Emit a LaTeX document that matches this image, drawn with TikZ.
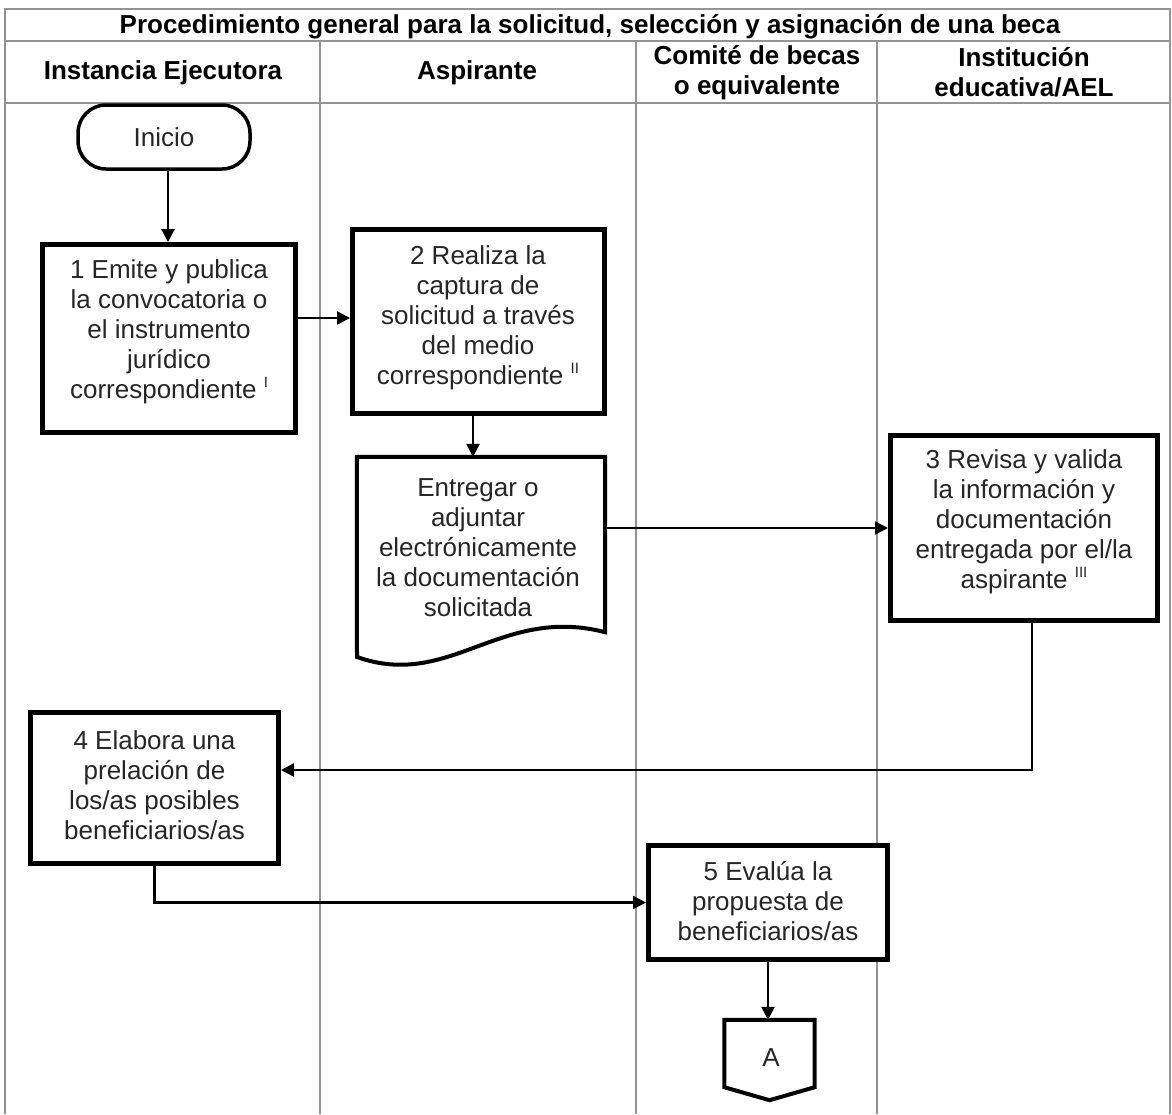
\documentclass[tikz,border=0pt]{standalone}
\usepackage{fontspec}
\setmainfont{Liberation Sans}
\usetikzlibrary{arrows.meta}
\newcommand\romsup[1]{\raisebox{0.42em}{\fontsize{15}{15}\selectfont #1}}
\begin{document}
\begin{tikzpicture}[x=1pt,y=-1pt,
  every node/.style={font=\fontsize{26}{30}\selectfont, align=center, inner sep=0pt},
  hdr/.style={font=\fontsize{26}{30}\selectfont\bfseries},
  lane/.style={draw=black!42, line width=2pt},
  procbox/.style={draw=black, line width=5pt, fill=white},
  shapeline/.style={draw=black, line width=4pt, line join=miter},
  conn/.style={draw=black, line width=2.5pt, -{Triangle[length=13pt,width=13pt]}},
  txt/.style={text=black!85}]
\useasboundingbox (0,0) rectangle (1172,1114);
% table lines
\draw[lane] (5,1114) -- (5,9) -- (1170,9) -- (1170,1114);
\draw[lane] (5,41) -- (1170,41);
\draw[lane] (5,103) -- (1170,103);
\draw[lane] (320,41) -- (320,1114);
\draw[lane] (636,41) -- (636,1114);
\draw[lane] (877,41) -- (877,1114);
% headers
\node[hdr] (title) at (590,26.5) {Procedimiento general para la solicitud, selección y asignación de una beca};
\node[hdr] (h1) at (163,73) {Instancia Ejecutora};
\node[hdr] (h2) at (477,73) {Aspirante};
\node[hdr] (h3) at (757,72.5) {Comité de becas\\o equivalente};
\node[hdr] (h4) at (1024,72.5) {Institución\\educativa/AEL};
% start
\node[draw=black, line width=3.5pt, rounded corners=28pt, minimum width=172pt, minimum height=64pt, txt] (inicio) at (164,137) {Inicio};
% box 1
\node[procbox, minimum width=253pt, minimum height=188pt] (b1) at (169,338.5) {};
\node[txt] (b1t) at (169,332) {1 Emite y publica\\la convocatoria o\\el instrumento\\jurídico\\correspondiente \romsup{I}};
% box 2
\node[procbox, minimum width=252pt, minimum height=184pt] (b2) at (478.5,321.5) {};
\node[txt] (b2t) at (478,317.5) {2 Realiza la\\captura de\\solicitud a través\\del medio\\correspondiente \romsup{II}};
% document
\node[minimum width=248pt, minimum height=175pt] (doc) at (481,544.5) {};
\draw[shapeline, fill=white] (doc.north west) -- (doc.north east) -- (doc.south east)
  .. controls (500,605) and (450,690) .. (357,657) -- cycle;
\node[txt] (doct) at (478,548) {Entregar o\\adjuntar\\electrónicamente\\la documentación\\solicitada};
% box 3
\node[procbox, minimum width=267pt, minimum height=185pt] (b3) at (1024,528) {};
\node[txt] (b3t) at (1024,522) {3 Revisa y valida\\la información y\\documentación\\entregada por el/la\\aspirante \romsup{III}};
% box 4
\node[procbox, minimum width=248pt, minimum height=151pt] (b4) at (154.5,788) {};
\node[txt] (b4t) at (154.5,785) {4 Elabora una\\prelación de\\los/as posibles\\beneficiarios/as};
% box 5
\node[procbox, minimum width=239pt, minimum height=114pt] (b5) at (768,902.5) {};
\node[txt] (b5t) at (768,901) {5 Evalúa la\\propuesta de\\beneficiarios/as};
% off-page connector A
\node[minimum width=90pt, minimum height=67pt] (A) at (769.5,1053.5) {};
\draw[shapeline, fill=white] (A.south west) -- (A.north west) -- (A.north east) -- (A.south east) -- ([yshift=-13pt]A.south) -- cycle;
\node[txt] (At) at (771,1058) {A};
% connectors
\draw[conn] (inicio.south -| 168,0) -- (b1.north -| 168,0);
\draw[conn] (b1.east |- 0,318) -- (b2.west |- 0,318);
\draw[conn] (b2.south -| 473,0) -- (doc.north -| 473,0);
\draw[conn] (doc.east |- b3.west) -- (b3.west);
\draw[conn] (b3.south -| 1032,0) |- (b4.east |- 0,770);
\draw[conn] (b4.south) |- (b5.west);
\draw[conn] (b5.south) -- (A.north -| b5.south);
\end{tikzpicture}
\end{document}
